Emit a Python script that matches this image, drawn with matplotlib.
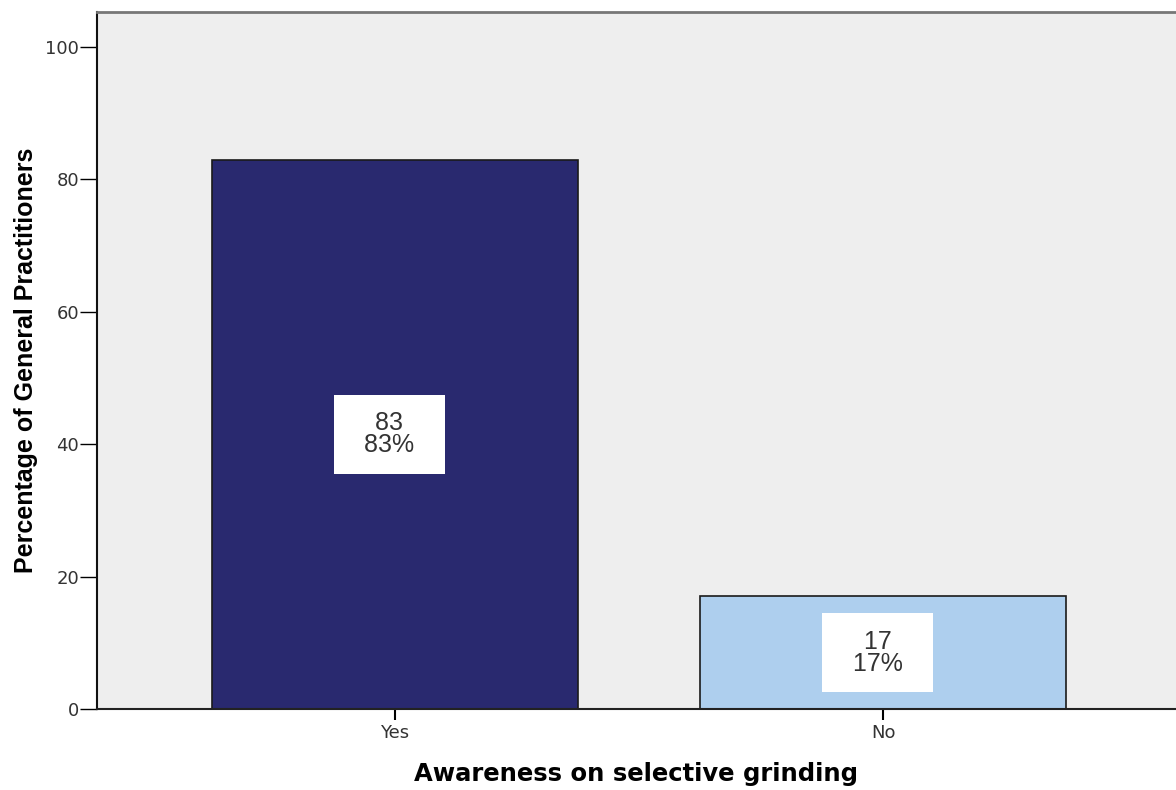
import matplotlib
matplotlib.use('Agg')
import matplotlib.pyplot as plt

categories = ['Yes', 'No']
counts = [83, 17]
percents = [83, 17]
colors = ['#29296f', '#aecfee']

plt.rcParams['font.family'] = ['Liberation Sans', 'DejaVu Sans']

fig = plt.figure(figsize=(11.76, 7.9), dpi=100)
ax = fig.add_axes([97 / 1176, 1 - 709 / 790, 1 - 97 / 1176, (709 - 12) / 790])
ax.set_facecolor('#eeeeee')

x = range(len(categories))
ax.bar(x, percents, width=0.75, color=colors, edgecolor='#1a1a1a', linewidth=1.2, zorder=2)

# white value boxes, padded with spaces to get the wide SPSS look
for i in x:
    ax.text(i - 0.011, percents[i] / 2, f"  {counts[i]}  \n  {percents[i]}%  ", ha='center', va='center',
            fontsize=18, color='#333333', linespacing=0.9, zorder=3,
            bbox=dict(boxstyle='square,pad=0.66', facecolor='white', edgecolor='none'))

ax.set_xlim(-0.61, 1.6)
ax.set_ylim(0, 105.3)
ax.set_xticks(list(x))
ax.set_xticklabels(categories, family='DejaVu Sans')
ax.set_yticks([0, 20, 40, 60, 80, 100])
ax.set_yticklabels([0, 20, 40, 60, 80, 100], family='DejaVu Sans')

ax.tick_params(axis='y', length=12, width=1, labelsize=13, labelcolor='#333333', pad=1)
ax.tick_params(axis='x', length=8, width=1.5, labelsize=13, labelcolor='#333333', pad=3)

ax.spines['left'].set_color('#111111')
ax.spines['bottom'].set_color('#222222')
ax.spines['bottom'].set_linewidth(1.5)
ax.spines['left'].set_linewidth(1.5)
ax.spines['top'].set_color('#777777')
ax.spines['top'].set_linewidth(2)
ax.spines['right'].set_visible(False)

ax.set_ylabel('Percentage of General Practitioners', fontsize=18, fontweight='bold', labelpad=5)
ax.set_xlabel('Awareness on selective grinding', fontsize=17.5, fontweight='bold', labelpad=14,
              family='DejaVu Sans')

fig.savefig('out.png', dpi=100)
